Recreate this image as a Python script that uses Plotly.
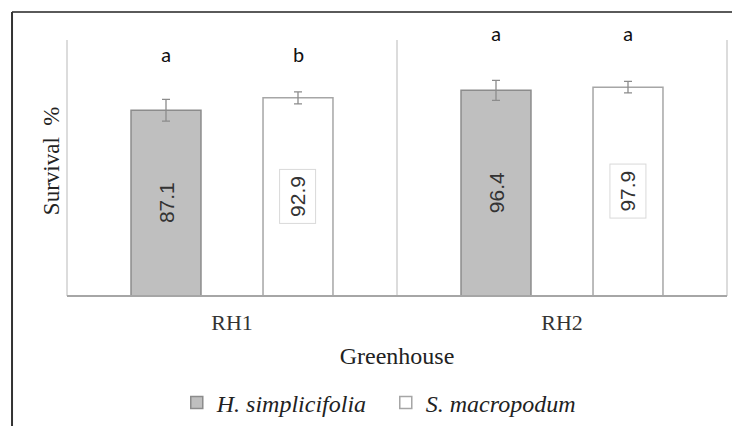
import plotly.graph_objects as go

# Greenhouse survival data
greenhouses = ["RH1", "RH2"]
species = ["H. simplicifolia", "S. macropodum"]
survival_h = [87.1, 96.4]
survival_s = [92.9, 97.9]
error_h = [5.1, 4.7]
error_s = [2.8, 2.7]
letters_h = ["a", "a"]
letters_s = ["b", "a"]

SERIF = "Liberation Serif, Times New Roman, serif"
SANS = "Liberation Sans, Arial, sans-serif"

fig = go.Figure()

fig.add_trace(go.Bar(
    x=greenhouses, y=survival_h, name=species[0],
    marker=dict(color="#bfbfbf", line=dict(color="#8c8c8c", width=1.5)),
    error_y=dict(type="data", array=error_h, visible=True,
                 color="#8c8c8c", thickness=1.3, width=4),
))
fig.add_trace(go.Bar(
    x=greenhouses, y=survival_s, name=species[1],
    marker=dict(color="#ffffff", line=dict(color="#a6a6a6", width=1.5)),
    error_y=dict(type="data", array=error_s, visible=True,
                 color="#8c8c8c", thickness=1.3, width=4),
))

annotations = []
offset = 0.2  # half of a group slot, in category units
for i, g in enumerate(greenhouses):
    # value labels, rotated, centred in each bar
    annotations.append(dict(
        x=i - offset, y=survival_h[i] / 2, xref="x", yref="y",
        text=f"{survival_h[i]:.1f}", textangle=-90, showarrow=False,
        font=dict(family=SANS, size=21, color="#333333"),
    ))
    annotations.append(dict(
        x=i + offset, y=survival_s[i] / 2, xref="x", yref="y",
        text=f"{survival_s[i]:.1f}", textangle=-90, showarrow=False,
        font=dict(family=SANS, size=21, color="#333333"),
        bgcolor="#ffffff", bordercolor="#d9d9d9", borderwidth=1, borderpad=6,
    ))
    # significance letters
    top = 106 if i == 0 else 116
    for dx, letter in ((-offset, letters_h[i]), (offset, letters_s[i])):
        annotations.append(dict(
            x=i + dx, y=top, xref="x", yref="y", yanchor="bottom",
            text=letter, showarrow=False,
            font=dict(family="Carlito, Open Sans, sans-serif", size=21, color="#111111"),
        ))

# y-axis title, rotated, just left of the plot area
annotations.append(dict(
    x=-0.023, y=0.53, xref="paper", yref="paper", xanchor="center", yanchor="middle",
    text="Survival  %", textangle=-90, showarrow=False,
    font=dict(family=SERIF, size=23, color="#222222"),
))

shapes = []
# plot-area boundary lines (left, middle divider, right)
for xp in (0, 0.5, 1):
    shapes.append(dict(type="line", xref="paper", yref="paper",
                       x0=xp, x1=xp, y0=0, y1=1,
                       line=dict(color="#d0d0d0", width=1.5)))
# baseline
shapes.append(dict(type="line", xref="paper", yref="paper",
                   x0=0, x1=1, y0=0, y1=0,
                   line=dict(color="#a6a6a6", width=2)))
# outer frame (top and left edges)
shapes.append(dict(type="line", xref="paper", yref="paper",
                   x0=-0.0833, x1=1.02, y0=1.109, y1=1.109,
                   line=dict(color="#5a5a5a", width=2)))
shapes.append(dict(type="line", xref="paper", yref="paper",
                   x0=-0.0833, x1=-0.0833, y0=1.109, y1=-0.52,
                   line=dict(color="#333333", width=2)))

fig.update_layout(
    width=732, height=426,
    margin=dict(l=67, r=5, t=40, b=130, autoexpand=False),
    paper_bgcolor="#ffffff", plot_bgcolor="#ffffff",
    barmode="group", bargap=0.2, bargroupgap=0.47,
    showlegend=True,
    legend=dict(orientation="h", x=0.483, xanchor="center", y=-0.418, yanchor="middle",
                font=dict(family=SERIF, size=24, color="#222222", style="italic"),
                itemwidth=30, entrywidth=164, traceorder="normal"),
    annotations=annotations,
    shapes=shapes,
    xaxis=dict(
        showgrid=False, showline=False, zeroline=False, automargin=False,
        ticks="", ticklabelstandoff=11,
        tickfont=dict(family=SERIF, size=22, color="#333333"),
        title=dict(text="Greenhouse", font=dict(family=SERIF, size=24, color="#222222"),
                   standoff=13),
    ),
    yaxis=dict(
        range=[0, 120], showgrid=False, showline=False, zeroline=False, automargin=False,
        showticklabels=False, ticks="",
    ),
)

fig.write_html("out.html")
